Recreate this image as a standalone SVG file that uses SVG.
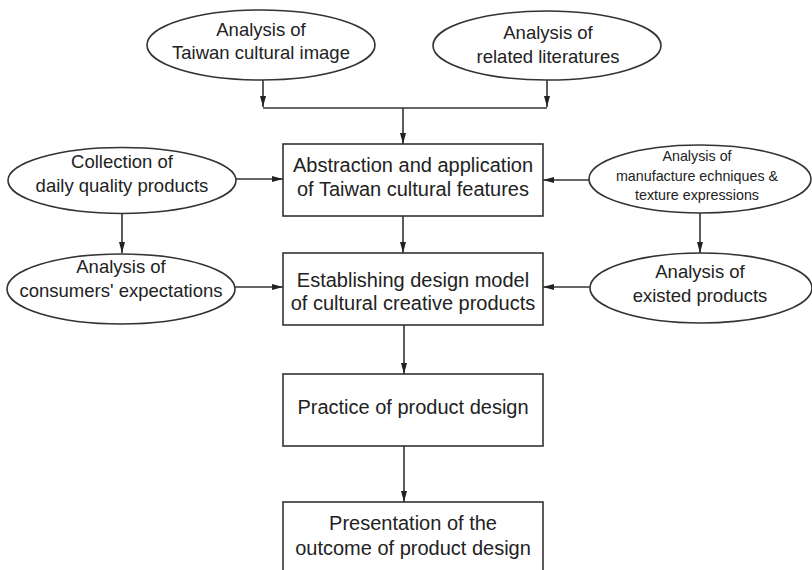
<svg xmlns="http://www.w3.org/2000/svg" width="812" height="570" viewBox="0 0 812 570">
<defs>
<marker id="ah" markerWidth="12" markerHeight="8" refX="11" refY="4" orient="auto" markerUnits="userSpaceOnUse">
<path d="M0,1 L11,4 L0,7 Z" fill="#222"/>
</marker>
<style>
.node ellipse, .node rect { fill: #fff; stroke: #333; stroke-width: 1.6; }
.t { font-family: "Liberation Sans", Arial, sans-serif; fill: #222; text-anchor: middle; }
.b { font-size: 20px; }
.e { font-size: 18.5px; }
.s { font-size: 14.3px; }
.conn path { fill: none; stroke: #333; stroke-width: 1.6; }
.conn .a { marker-end: url(#ah); }
</style>
</defs>
<rect width="812" height="570" fill="#fff"/>

<g class="conn">
<path class="a" d="M263,80 V107"/>
<path class="a" d="M547,80 V107"/>
<path d="M263,108 H547"/>
<path class="a" d="M403,108 V144"/>
<path class="a" d="M235,179 H283"/>
<path class="a" d="M589,180 H543"/>
<path class="a" d="M122,213 V253"/>
<path class="a" d="M700,213 V253"/>
<path class="a" d="M403,216 V253"/>
<path class="a" d="M235,287 H283"/>
<path class="a" d="M590,287 H543"/>
<path class="a" d="M404,325 V374"/>
<path class="a" d="M404,446 V502"/>
</g>

<g id="n-taiwan-image" class="node">
<ellipse cx="261" cy="45" rx="114" ry="35"/>
<text class="t e" x="261" y="36">Analysis of</text>
<text class="t e" x="261" y="59">Taiwan cultural image</text>
</g>

<g id="n-literatures" class="node">
<ellipse cx="547" cy="45.5" rx="114" ry="34.5"/>
<text class="t e" x="548" y="39">Analysis of</text>
<text class="t e" x="548" y="63">related literatures</text>
</g>

<g id="n-abstraction" class="node">
<rect x="283" y="144" width="260" height="72"/>
<text class="t b" x="413" y="172">Abstraction and application</text>
<text class="t b" x="413" y="196">of Taiwan cultural features</text>
</g>

<g id="n-collection" class="node">
<ellipse cx="122" cy="180.5" rx="114" ry="33"/>
<text class="t e" x="122" y="168">Collection of</text>
<text class="t e" x="122" y="192">daily quality products</text>
</g>

<g id="n-manufacture" class="node">
<ellipse cx="700" cy="179" rx="111" ry="34"/>
<text class="t s" x="697" y="161">Analysis of</text>
<text class="t s" x="697" y="181">manufacture echniques &amp;</text>
<text class="t s" x="697" y="200">texture expressions</text>
</g>

<g id="n-consumers" class="node">
<ellipse cx="121" cy="289" rx="114" ry="35"/>
<text class="t e" x="121" y="273">Analysis of</text>
<text class="t e" x="121" y="297">consumers' expectations</text>
</g>

<g id="n-model" class="node">
<rect x="283" y="253" width="260" height="72"/>
<text class="t b" x="413" y="287">Establishing design model</text>
<text class="t b" x="413" y="310">of cultural creative products</text>
</g>

<g id="n-existed" class="node">
<ellipse cx="701" cy="288" rx="111" ry="35"/>
<text class="t e" x="700" y="278">Analysis of</text>
<text class="t e" x="700" y="302">existed products</text>
</g>

<g id="n-practice" class="node">
<rect x="283" y="374" width="260" height="72"/>
<text class="t b" x="413" y="414">Practice of product design</text>
</g>

<g id="n-presentation" class="node">
<rect x="283" y="502" width="260" height="74"/>
<text class="t b" x="413" y="530">Presentation of the</text>
<text class="t b" x="413" y="555">outcome of product design</text>
</g>
</svg>
